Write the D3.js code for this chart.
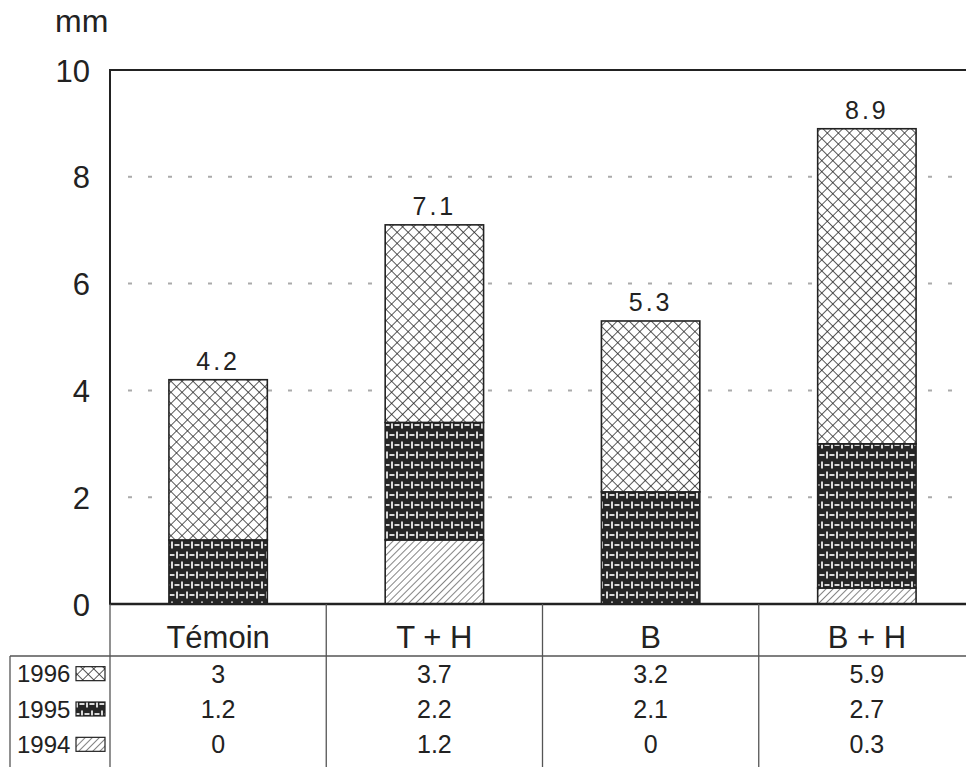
<!DOCTYPE html>
<html>
<head>
<meta charset="utf-8">
<script src="https://unpkg.com/d3@7/dist/d3.min.js"></script>
<style>
  body { margin: 0; background: #fff; }
  svg text { font-family: "Liberation Sans", Arial, sans-serif; fill: #222; }
</style>
</head>
<body>
<div class="chart"></div>
<script>
const categories = ["Témoin", "T + H", "B", "B + H"];
const years = ["1996", "1995", "1994"];
const v1994 = [0, 1.2, 0, 0.3];
const v1995 = [1.2, 2.2, 2.1, 2.7];
const v1996 = [3, 3.7, 3.2, 5.9];
const totals = [4.2, 7.1, 5.3, 8.9];
const yTicks = [0, 2, 4, 6, 8, 10];
const gridTicks = [2, 4, 6, 8];

const width = 966, height = 767;

// rows for the stack
const data = categories.map((c, i) => ({
	cat: c,
	"1994": v1994[i],
	"1995": v1995[i],
	"1996": v1996[i],
	total: totals[i],
}));
const tableValues = { "1996": v1996, "1995": v1995, "1994": v1994 };

const xScale = d3.scaleBand().domain(categories).range([110, 975]);
const yScale = d3.scaleLinear().domain([0, 10]).range([604, 70]);
const barW = xScale.bandwidth() * 0.455;

const svg = d3
	.select(".chart")
	.append("svg")
	.attr("width", width)
	.attr("height", height);

// patterns
const defs = svg.append("defs");

const cross = defs
	.append("pattern")
	.attr("id", "p1996")
	.attr("patternUnits", "userSpaceOnUse")
	.attr("width", 7.8)
	.attr("height", 7.8)
	.attr("patternTransform", "rotate(45)");
cross.append("rect").attr("width", 7.8).attr("height", 7.8).attr("fill", "#fff");
cross.append("line").attr("x1", 0).attr("y1", 0).attr("x2", 0).attr("y2", 7.8)
	.attr("stroke", "#222").attr("stroke-width", 1.5);
cross.append("line").attr("x1", 0).attr("y1", 0).attr("x2", 7.8).attr("y2", 0)
	.attr("stroke", "#222").attr("stroke-width", 1.5);

const weave = defs
	.append("pattern")
	.attr("id", "p1995")
	.attr("patternUnits", "userSpaceOnUse")
	.attr("width", 10)
	.attr("height", 20);
weave.append("rect").attr("width", 10).attr("height", 20).attr("fill", "#262626");
const wl = [
	[2, 1.5, 2, 8.5],
	[4.5, 5, 9.5, 5],
	[7, 11.5, 7, 18.5],
	[0, 15, 4.5, 15],
	[9.5, 15, 10, 15],
];
weave
	.selectAll("line")
	.data(wl)
	.enter()
	.append("line")
	.attr("x1", (d) => d[0])
	.attr("y1", (d) => d[1])
	.attr("x2", (d) => d[2])
	.attr("y2", (d) => d[3])
	.attr("stroke", "#eee")
	.attr("stroke-width", 1.8);

const hatch = defs
	.append("pattern")
	.attr("id", "p1994")
	.attr("patternUnits", "userSpaceOnUse")
	.attr("width", 5)
	.attr("height", 5)
	.attr("patternTransform", "rotate(45)");
hatch.append("rect").attr("width", 5).attr("height", 5).attr("fill", "#fff");
hatch.append("line").attr("x1", 0).attr("y1", 0).attr("x2", 0).attr("y2", 5)
	.attr("stroke", "#333").attr("stroke-width", 1.2);

// grid lines
svg.append("g")
	.selectAll("line")
	.data(gridTicks)
	.enter()
	.append("line")
	.attr("x1", 112)
	.attr("x2", width)
	.attr("y1", (d) => yScale(d))
	.attr("y2", (d) => yScale(d))
	.attr("stroke", "#aaa")
	.attr("stroke-width", 2)
	.attr("stroke-dasharray", "4 16")
	.attr("stroke-dashoffset", -16);

// stacked bars
const stack = d3.stack().keys(["1994", "1995", "1996"]);
const series = stack(data);

svg.append("g")
	.selectAll("g")
	.data(series)
	.enter()
	.append("g")
	.attr("fill", (s) => "url(#p" + s.key + ")")
	.selectAll("rect")
	.data((s) => s.filter((d) => d[1] - d[0] > 0))
	.enter()
	.append("rect")
	.attr("x", (d) => xScale(d.data.cat) + (xScale.bandwidth() - barW) / 2)
	.attr("y", (d) => yScale(d[1]))
	.attr("width", barW)
	.attr("height", (d) => yScale(d[0]) - yScale(d[1]))
	.attr("stroke", "#222")
	.attr("stroke-width", 1.6);

// total labels
svg.append("g")
	.selectAll("text")
	.data(data)
	.enter()
	.append("text")
	.attr("x", (d) => xScale(d.cat) + xScale.bandwidth() / 2)
	.attr("y", (d) => yScale(d.total) - 10)
	.attr("text-anchor", "middle")
	.style("font-size", "25px")
	.style("letter-spacing", "3px")
	.text((d) => d.total);

// frame
svg.append("line").attr("x1", 110).attr("x2", width).attr("y1", 70).attr("y2", 70)
	.attr("stroke", "#222").attr("stroke-width", 2);
svg.append("line").attr("x1", 110).attr("x2", width).attr("y1", 604).attr("y2", 604)
	.attr("stroke", "#222").attr("stroke-width", 2.5);

// y axis
const yAxis = d3.axisLeft(yScale).tickValues(yTicks).tickSize(0).tickPadding(20);
const ya = svg.append("g").attr("class", "axis y-axis")
	.attr("transform", "translate(110,0)")
	.call(yAxis);
ya.select(".domain").remove();
ya.selectAll("text").style("font-size", "31px").attr("fill", "#222").attr("dy", "0.36em");
svg.append("line").attr("x1", 110).attr("x2", 110).attr("y1", 69).attr("y2", 605)
	.attr("stroke", "#222").attr("stroke-width", 2);

svg.append("text")
	.attr("x", 55)
	.attr("y", 32)
	.style("font-size", "32px")
	.text("mm");

// table
const table = svg.append("g");
const bounds = categories.map((c) => xScale(c)).concat([xScale.range()[1]]);
table.selectAll("line.col")
	.data(bounds)
	.enter()
	.append("line")
	.attr("x1", (d) => d)
	.attr("x2", (d) => d)
	.attr("y1", 604)
	.attr("y2", height)
	.attr("stroke", "#555")
	.attr("stroke-width", 1.3);
table.append("line").attr("x1", 10).attr("x2", width).attr("y1", 656).attr("y2", 656)
	.attr("stroke", "#555").attr("stroke-width", 1.5);
table.append("line").attr("x1", 10).attr("x2", 10).attr("y1", 656).attr("y2", height)
	.attr("stroke", "#555").attr("stroke-width", 1.3);

table.selectAll("text.cat")
	.data(categories)
	.enter()
	.append("text")
	.attr("x", (d) => xScale(d) + xScale.bandwidth() / 2)
	.attr("y", 648)
	.attr("text-anchor", "middle")
	.style("font-size", "31px")
	.text((d) => d);

const rowY = d3.scaleBand().domain(years).range([656, 762]);

const rows = table.selectAll("g.row")
	.data(years)
	.enter()
	.append("g")
	.attr("transform", (d) => "translate(0," + (rowY(d) + rowY.bandwidth() / 2) + ")");

rows.append("text")
	.attr("x", 17)
	.attr("dy", "0.36em")
	.style("font-size", "24px")
	.text((d) => d);

rows.append("rect")
	.attr("x", 76)
	.attr("y", -7)
	.attr("width", 29)
	.attr("height", 14)
	.attr("fill", (d) => "url(#p" + d + ")")
	.attr("stroke", "#222")
	.attr("stroke-width", 1.2);

rows.selectAll("text.val")
	.data((d) => tableValues[d].map((v, i) => ({ v: v, cat: categories[i] })))
	.enter()
	.append("text")
	.attr("x", (d) => xScale(d.cat) + xScale.bandwidth() / 2)
	.attr("dy", "0.36em")
	.attr("text-anchor", "middle")
	.style("font-size", "25px")
	.text((d) => d.v);
</script>
</body>
</html>
